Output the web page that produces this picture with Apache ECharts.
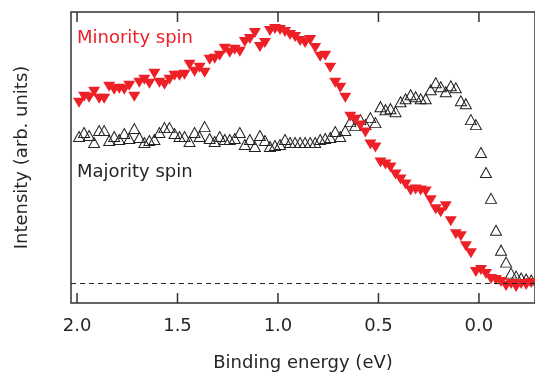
<!DOCTYPE html>
<html lang="en">
<head>
    <meta charset="utf-8">
    <script src="https://cdn.jsdelivr.net/npm/echarts@6/dist/echarts.min.js"></script>
    <style>
        html, body { margin: 0; padding: 0; background: #fff; }
    </style>
</head>
<body>
<div id="main" style="width: 535px;height:377px;"></div>
    <script type="text/javascript">
        // binding energy grid (eV)
        var energy = [
            1.990, 1.965, 1.940, 1.915, 1.890, 1.865, 1.840, 1.815, 1.790, 1.765,
            1.740, 1.715, 1.690, 1.665, 1.640, 1.615, 1.590, 1.565, 1.540, 1.515,
            1.490, 1.465, 1.440, 1.415, 1.390, 1.365, 1.340, 1.315, 1.290, 1.265,
            1.240, 1.215, 1.190, 1.165, 1.140, 1.115, 1.090, 1.065, 1.040, 1.015,
            0.990, 0.965, 0.940, 0.915, 0.890, 0.865, 0.840, 0.815, 0.790, 0.765,
            0.740, 0.715, 0.690, 0.665, 0.640, 0.615, 0.590, 0.565, 0.540, 0.515,
            0.490, 0.465, 0.440, 0.415, 0.390, 0.365, 0.340, 0.315, 0.290, 0.265,
            0.240, 0.215, 0.190, 0.165, 0.140, 0.115, 0.090, 0.065, 0.040, 0.015,
            -0.010, -0.035, -0.060, -0.085, -0.110, -0.135, -0.160, -0.185, -0.210, -0.235,
            -0.260
        ];
        // intensity, arbitrary units (0 = dashed baseline)
        var minority = [
            181, 187, 186, 192, 185, 185, 197, 194, 195, 194,
            198, 187, 201, 204, 200, 210, 201, 199, 204, 208,
            208, 209, 219, 212, 216, 211, 224, 225, 228, 235,
            231, 234, 232, 242, 245, 251, 237, 241, 253, 255,
            254, 252, 249, 247, 243, 241, 244, 236, 227, 228,
            216, 201, 196, 186, 167, 164, 158, 151, 139, 136,
            121, 119, 116, 109, 104, 99, 93, 94, 93, 92,
            83, 74, 71, 77, 62, 49, 47, 37, 30, 11,
            13, 9, 4, 3, 1, -3, -1, -4, -1, -2,
            0
        ];
        var majority = [
            147, 151, 148, 141, 153, 153, 143, 147, 144, 150,
            145, 155, 146, 141, 143, 144, 151, 156, 156, 150,
            147, 147, 142, 151, 147, 157, 145, 142, 147, 144,
            144, 145, 151, 139, 144, 137, 148, 143, 137, 138,
            139, 144, 141, 141, 141, 141, 141, 141, 144, 145,
            146, 152, 147, 153, 162, 158, 164, 159, 166, 161,
            177, 174, 175, 172, 182, 185, 189, 187, 185, 185,
            194, 201, 197, 192, 198, 196, 183, 180, 164, 159,
            131, 111, 85, 53, 33, 21, 10, 7, 5, 4,
            3
        ];
        var tickValues = [2.0, 1.5, 1.0, 0.5, 0.0];

        var font = 'DejaVu Sans';
        var ink = '#262626';
        var red = '#ee2027';
        var yMin = -20, yMax = 272;
        var tickPx = 10;

        function pairs(xs, ys) {
            var out = [];
            for (var i = 0; i < xs.length; i++) out.push([xs[i], ys[i]]);
            return out;
        }

        // inward ticks on the bottom and top edges, placed through the axis scale
        function renderTick(params, api) {
            var v = api.value(0);
            var b = api.coord([v, yMin]);
            var t = api.coord([v, yMax]);
            var st = { stroke: '#333', lineWidth: 1.5 };
            return {
                type: 'group',
                children: [
                    { type: 'line', shape: { x1: b[0], y1: b[1], x2: b[0], y2: b[1] - tickPx }, style: st },
                    { type: 'line', shape: { x1: t[0], y1: t[1], x2: t[0], y2: t[1] + tickPx }, style: st }
                ]
            };
        }

        var chart = echarts.init(document.getElementById('main'));
        var option = {
            animation: false,
            // frame drawn by the grid; right edge pushed just off the canvas
            grid: { show: true, left: 71, right: -3, top: 12, bottom: 73,
                    borderColor: '#333', borderWidth: 1.5, backgroundColor: 'transparent' },
            xAxis: {
                type: 'value', min: -0.279, max: 2.030, inverse: true,
                position: 'bottom',
                splitLine: { show: false },
                axisLine: { show: false, onZero: false },
                axisTick: { show: false },
                name: 'Binding energy (eV)',
                nameLocation: 'middle',
                nameGap: 51,
                nameTextStyle: { fontFamily: font, fontSize: 18, color: ink },
                axisLabel: { show: true, customValues: tickValues, margin: 14,
                             fontFamily: font, fontSize: 18, color: ink,
                             formatter: function (v) { return v.toFixed(1); } }
            },
            yAxis: {
                type: 'value',
                min: yMin,
                max: yMax,
                name: 'Intensity (arb. units)',
                nameLocation: 'middle',
                nameGap: 40,
                nameTextStyle: { fontFamily: font, fontSize: 18, color: ink },
                splitLine: { show: false },
                axisLine: { show: false, onZero: false },
                axisTick: { show: false },
                axisLabel: { show: false }
            },
            series: [
                {
                    name: 'ticks',
                    type: 'custom',
                    silent: true,
                    clip: false,
                    renderItem: renderTick,
                    encode: { x: 0, y: 1 },
                    data: tickValues.map(function (v) { return [v, 0]; }),
                    z: 5
                },
                {
                    name: 'Majority spin',
                    type: 'scatter',
                    data: pairs(energy, majority),
                    symbol: 'triangle',
                    symbolSize: [11, 10],
                    itemStyle: { color: 'rgba(255,255,255,0)', borderColor: '#222', borderWidth: 1, opacity: 1 },
                    markLine: {
                        silent: true,
                        symbol: 'none',
                        label: { show: false },
                        lineStyle: { color: '#222', type: [5, 4], width: 1.2 },
                        data: [{ yAxis: 0 }]
                    }
                },
                {
                    name: 'Minority spin',
                    type: 'scatter',
                    data: pairs(energy, minority),
                    symbol: 'triangle',
                    symbolRotate: 180,
                    symbolSize: [12, 10],
                    itemStyle: { color: red, opacity: 1 }
                }
            ],
            graphic: [
                { type: 'text', left: 77, top: 29,
                  style: { text: 'Minority spin', font: '18px "DejaVu Sans"', fill: red } },
                { type: 'text', left: 77, top: 163,
                  style: { text: 'Majority spin', font: '18px "DejaVu Sans"', fill: ink } }
            ]
        };
        chart.setOption(option);
    </script>
</body>
</html>
